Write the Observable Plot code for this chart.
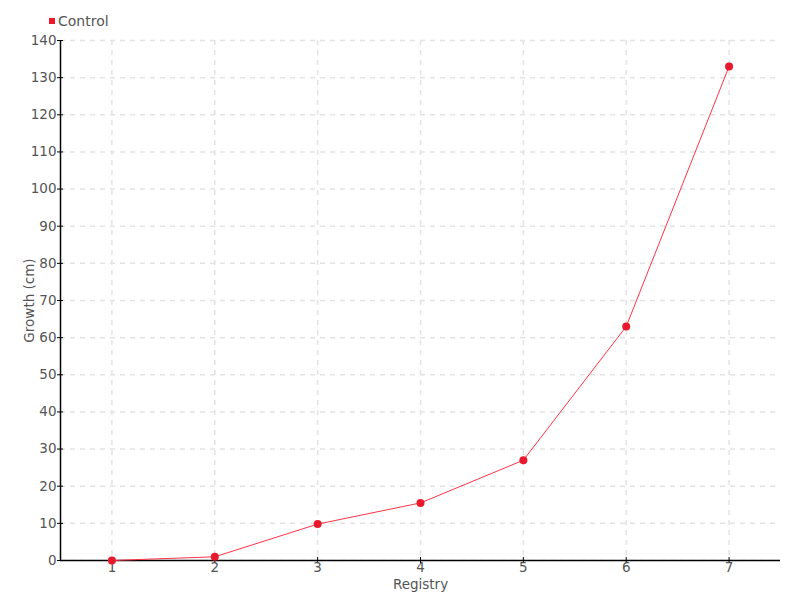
<!DOCTYPE html>
<html>
<head>
<meta charset="utf-8">
<script src="https://cdn.jsdelivr.net/npm/d3@7"></script>
<script src="https://cdn.jsdelivr.net/npm/@observablehq/plot@0.6"></script>
<style>
  body { margin: 0; background: #fff; }
  #wrap { position: relative; width: 800px; height: 600px; font-family: "DejaVu Sans", sans-serif; }
  #legend { position: absolute; left: 49px; top: 13px; font-size: 14px; color: #555; display: flex; align-items: center; }
  #legend .sw { width: 6px; height: 6px; background: #e8192c; margin-right: 3px; }
</style>
</head>
<body>
<div id="wrap">
  <div id="legend"><span class="sw"></span><span id="legend-label"></span></div>
</div>
<script>
const seriesName = "Control";
const registry = [1, 2, 3, 4, 5, 6, 7];
const growth = [0, 1, 9.8, 15.5, 27, 63, 133];
const xTicks = [1, 2, 3, 4, 5, 6, 7];
const yTicks = [0, 10, 20, 30, 40, 50, 60, 70, 80, 90, 100, 110, 120, 130, 140];
const xLabel = "Registry";
const yLabel = "Growth (cm)";

const data = registry.map((r, i) => ({ x: r, y: growth[i] }));
document.getElementById("legend-label").textContent = seriesName;

const chart = Plot.plot({
  width: 800,
  height: 600,
  marginLeft: 60,
  marginRight: 20,
  marginTop: 40,
  marginBottom: 40,
  style: { fontFamily: "'DejaVu Sans', sans-serif", fontSize: "13.5px", color: "#555", background: "transparent" },
  x: { domain: [0.5, 7.5] },
  y: { domain: [0, 140] },
  marks: [
    Plot.gridX(xTicks, { stroke: "#e3e3e3", strokeOpacity: 1, strokeDasharray: "5,5", strokeWidth: 1.5 }),
    Plot.gridY(yTicks, { stroke: "#e3e3e3", strokeOpacity: 1, strokeDasharray: "5,5", strokeWidth: 1.5 }),
    Plot.ruleY([0], { stroke: "#000", strokeWidth: 1.5 }),
    Plot.ruleX([0.5], { stroke: "#000", strokeWidth: 1.5 }),
    Plot.axisY(yTicks, { tickSize: 6, dx: 3, text: null, stroke: "#000", label: null }),
    Plot.axisY(yTicks, { tickSize: 0, tickPadding: 4, fill: "#555", label: null }),
    Plot.axisX(xTicks, { tickSize: 6, dy: -3, text: null, stroke: "#000", label: null }),
    Plot.axisX(xTicks, { tickSize: 0, tickPadding: 2, fill: "#555", label: null }),
    Plot.text([yLabel], { frameAnchor: "left", dx: -31, rotate: -90, textAnchor: "middle", lineAnchor: "middle", fill: "#555", fontSize: 13.5 }),
    Plot.text([xLabel], { frameAnchor: "bottom", dy: 19, lineAnchor: "top", fill: "#555", fontSize: 13.5 }),
    Plot.line(data, { x: "x", y: "y", stroke: "#ff3347", strokeWidth: 1 }),
    Plot.dot(data, { x: "x", y: "y", r: 4, fill: "#e8192c", stroke: "none" })
  ]
});
document.getElementById("wrap").appendChild(chart);
chart.style.position = "absolute";
chart.style.left = "0";
chart.style.top = "0";
document.getElementById("wrap").appendChild(document.getElementById("legend"));
</script>
</body>
</html>
